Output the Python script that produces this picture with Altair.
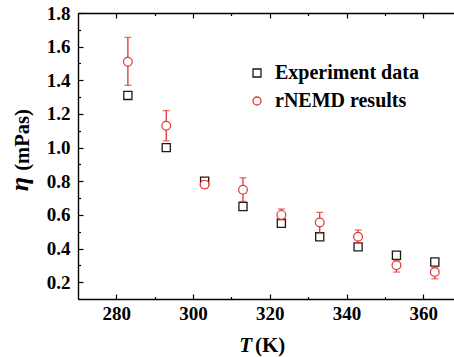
import altair as alt
import pandas as pd

# ---- data ----
temps = [283, 293, 303, 313, 323, 333, 343, 353, 363]
exp_vals = [1.31, 1.00, 0.80, 0.65, 0.55, 0.47, 0.41, 0.36, 0.32]
nemd_vals = [1.51, 1.13, 0.78, 0.75, 0.60, 0.555, 0.47, 0.30, 0.26]
nemd_lo = [1.37, 1.04, 0.76, 0.68, 0.57, 0.49, 0.435, 0.26, 0.22]
nemd_hi = [1.655, 1.22, 0.80, 0.82, 0.635, 0.615, 0.51, 0.33, 0.29]
series_names = ["Experiment data", "rNEMD results"]
x_major = [280, 300, 320, 340, 360]
x_minor = [290, 310, 330, 350]
y_major = [0.2, 0.4, 0.6, 0.8, 1.0, 1.2, 1.4, 1.6, 1.8]
y_minor = [0.3, 0.5, 0.7, 0.9, 1.1, 1.3, 1.5, 1.7]

W, H = 376, 286
FONT = "Liberation Serif"
RED = "#e3342f"
BLK = "#1a1a1a"

df_exp = pd.DataFrame({"T": temps, "v": exp_vals, "series": series_names[0]})
df_nemd = pd.DataFrame({"T": temps, "v": nemd_vals, "lo": nemd_lo, "hi": nemd_hi,
                        "series": series_names[1]})

xs = alt.Scale(domain=[270, 368], nice=False, zero=False)
ys = alt.Scale(domain=[0.1, 1.8], nice=False, zero=False)


def legend():
    return alt.Legend(title=None, orient="none", legendX=169, legendY=50,
                      labelFont=FONT, labelFontWeight="bold", labelFontSize=20,
                      labelColor="black", symbolSize=64, symbolStrokeWidth=1.3,
                      labelOffset=8, rowPadding=8, padding=0)


stroke_enc = alt.Stroke("series:N", scale=alt.Scale(domain=series_names, range=[BLK, RED]),
                        legend=legend())
shape_enc = alt.Shape("series:N", scale=alt.Scale(domain=series_names, range=["square", "circle"]),
                      legend=legend())

main_x_axis = alt.Axis(values=x_major, ticks=False, tickSize=0, grid=False, title=None,
                       labelFont=FONT, labelFontWeight="bold", labelFontSize=19, labelColor="black",
                       labelPadding=5, domainColor="black", domainWidth=1.4)
main_y_axis = alt.Axis(values=y_major, ticks=False, tickSize=0, grid=False, title=None, format=".1f",
                       labelFont=FONT, labelFontWeight="bold", labelFontSize=19, labelColor="black",
                       labelPadding=8, domainColor="black", domainWidth=1.4)

squares = alt.Chart(df_exp).mark_point(filled=False, strokeWidth=1.3, size=66, opacity=1).encode(
    x=alt.X("T:Q", scale=xs, axis=main_x_axis),
    y=alt.Y("v:Q", scale=ys, axis=main_y_axis),
    stroke=stroke_enc, shape=shape_enc,
)

errbars = alt.Chart(df_nemd).mark_errorbar(color=RED, thickness=1.3,
                                           ticks=alt.MarkConfig(size=7, color=RED, strokeWidth=1.3)).encode(
    x=alt.X("T:Q", scale=xs, axis=None),
    y=alt.Y("lo:Q", scale=ys, axis=None),
    y2="hi:Q",
)

circles = alt.Chart(df_nemd).mark_point(filled=False, fill="white", fillOpacity=1, strokeWidth=1.2,
                                        size=76, opacity=1).encode(
    x=alt.X("T:Q", scale=xs, axis=None),
    y=alt.Y("v:Q", scale=ys, axis=None),
    stroke=stroke_enc, shape=shape_enc,
)


def tick_layer(channel, orient, offset, values, size, domain=False):
    ax = alt.Axis(orient=orient, offset=offset, values=values, tickSize=size, tickWidth=1.2,
                  tickColor="black", labels=False, grid=False, title=None, domain=domain,
                  domainColor="black", domainWidth=1.4)
    if channel == "x":
        enc = dict(x=alt.X("T:Q", scale=xs, axis=ax), y=alt.Y("v:Q", scale=ys, axis=None))
    else:
        enc = dict(x=alt.X("T:Q", scale=xs, axis=None), y=alt.Y("v:Q", scale=ys, axis=ax))
    return alt.Chart(df_exp).mark_point(opacity=0).encode(**enc)


ticks = [
    tick_layer("x", "top", -H, x_major, 5),
    tick_layer("x", "top", -H, x_minor, 2.5),
    tick_layer("x", "bottom", -H, x_major, 5, domain=True),
    tick_layer("x", "bottom", -H, x_minor, 2.5),
    tick_layer("y", "right", -W, y_major, 5),
    tick_layer("y", "right", -W, y_minor, 2.5),
]

one = pd.DataFrame({"a": [0]})
t_italic = alt.Chart(one).mark_text(text="T", font=FONT, fontSize=21, fontWeight="bold",
                                    fontStyle="italic", align="right", baseline="alphabetic",
                                    color="black").encode(x=alt.value(174), y=alt.value(339))
t_unit = alt.Chart(one).mark_text(text="(K)", font=FONT, fontSize=21, fontWeight="bold",
                                  align="left", baseline="alphabetic",
                                  color="black").encode(x=alt.value(177), y=alt.value(339))
eta = alt.Chart(one).mark_text(text="η", font=FONT, fontSize=26, fontWeight="bold",
                               fontStyle="italic", align="center", baseline="alphabetic", angle=270,
                               color="black").encode(x=alt.value(-50), y=alt.value(171))
eta_unit = alt.Chart(one).mark_text(text="(mPas)", font=FONT, fontSize=20.5, fontWeight="bold",
                                    align="center", baseline="alphabetic", angle=270,
                                    color="black").encode(x=alt.value(-49), y=alt.value(127))

chart = alt.layer(
    squares, errbars, circles, *ticks, t_italic, t_unit, eta, eta_unit
).resolve_axis(x="independent", y="independent").properties(
    width=W, height=H,
    autosize=alt.AutoSizeParams(type="none"),
    padding={"left": 78, "top": 13, "right": 0, "bottom": 58},
).configure_view(stroke=None).configure(background="white")

chart.save("out.html", embed_options={"renderer": "svg", "actions": False})
